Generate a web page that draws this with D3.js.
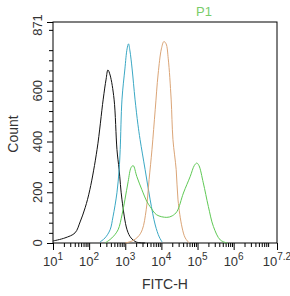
<!DOCTYPE html>
<html>
<head>
<meta charset="utf-8">
<script src="https://cdn.jsdelivr.net/npm/d3@7"></script>
<style>
  body { margin: 0; background: #fff; }
  text { font-family: "Liberation Sans", Arial, sans-serif; fill: #333; }
</style>
</head>
<body>
<div id="chart"></div>
<script>
// log10(FITC-H) positions and counts
var blackLog   = [1.0, 1.33, 1.61, 1.75, 1.89, 2.02, 2.22, 2.39, 2.47, 2.52, 2.58, 2.69, 2.77, 2.83, 2.91, 3.05, 3.16, 3.30, 3.55];
var blackCount = [8, 20, 40, 83, 139, 210, 369, 567, 646, 682, 662, 567, 369, 289, 170, 52, 20, 4, 0];

var cyanLog   = [2.30, 2.44, 2.58, 2.66, 2.77, 2.83, 2.86, 2.91, 2.99, 3.05, 3.09, 3.13, 3.19, 3.27, 3.35, 3.41, 3.55, 3.69, 3.83, 3.94, 4.02];
var cyanCount = [4, 20, 52, 103, 198, 289, 369, 567, 686, 765, 785, 757, 686, 567, 468, 408, 289, 170, 71, 24, 4];

var orangeLog   = [3.0, 3.19, 3.35, 3.47, 3.58, 3.66, 3.74, 3.83, 3.91, 4.00, 4.07, 4.13, 4.19, 4.27, 4.32, 4.41, 4.46, 4.57, 4.66, 4.77];
var orangeCount = [0, 8, 24, 52, 131, 250, 369, 527, 666, 765, 794, 785, 726, 567, 408, 289, 170, 63, 20, 0];

var greenLog   = [2.44, 2.63, 2.80, 2.91, 2.99, 3.08, 3.16, 3.22, 3.32, 3.46, 3.60, 3.69, 3.87, 4.15, 4.30, 4.43, 4.61, 4.80, 4.91, 4.98, 5.04, 5.16, 5.30, 5.44, 5.63, 5.82];
var greenCount = [0, 20, 52, 111, 170, 242, 297, 305, 262, 210, 163, 143, 111, 101, 107, 124, 197, 263, 305, 315, 305, 237, 144, 65, 12, 0];

var xExponents = [1, 2, 3, 4, 5, 6, 7.2];
var yMajor = [0, 200, 400, 600, 871];

var width = 290, height = 296;
var plotLeft = 53, plotRight = 277, plotTop = 22, plotBottom = 243;

var svg = d3.select("#chart").append("svg")
    .attr("width", width)
    .attr("height", height);

var x = d3.scaleLog().domain([10, Math.pow(10, 7.2)]).range([plotLeft, plotRight]);
var y = d3.scaleLinear().domain([0, 871]).range([plotBottom, plotTop]);

// minor ticks
var xMinor = [];
for (var d = 1; d < 7; d++) {
    for (var k = 2; k <= 9; k++) {
        var v = k * Math.pow(10, d);
        if (v < Math.pow(10, 7.2)) xMinor.push(v);
    }
}
var yMinor = [];
for (var c = 40; c < 871; c += 40) {
    if (c % 200 != 0) yMinor.push(c);
}

svg.append("g")
    .attr("transform", "translate(0," + plotBottom + ")")
    .call(d3.axisBottom(x).tickValues(xMinor).tickSize(4).tickFormat(""));
svg.append("g")
    .attr("transform", "translate(0," + plotBottom + ")")
    .call(d3.axisBottom(x).tickValues(xExponents.map(function(e) { return Math.pow(10, e); })).tickSize(7).tickFormat(""));

svg.append("g")
    .attr("transform", "translate(" + plotLeft + ",0)")
    .call(d3.axisLeft(y).tickValues(yMinor).tickSize(4).tickFormat(""));
svg.append("g")
    .attr("transform", "translate(" + plotLeft + ",0)")
    .call(d3.axisLeft(y).tickValues(yMajor).tickSize(6).tickFormat(""));

svg.selectAll(".domain").remove();
svg.selectAll(".tick line").attr("stroke", "#000");

// x tick labels: 10 with superscript exponent
var xLabels = svg.selectAll(".xlab")
    .data(xExponents)
  .enter().append("text")
    .attr("class", "xlab")
    .attr("x", function(e) { return x(Math.pow(10, e)); })
    .attr("y", 266)
    .attr("text-anchor", "middle")
    .style("font-size", "13px");
xLabels.append("tspan").text("10");
xLabels.append("tspan")
    .attr("dy", -6)
    .style("font-size", "10px")
    .text(function(e) { return e; });

// y tick labels, rotated
svg.selectAll(".ylab")
    .data(yMajor)
  .enter().append("text")
    .attr("class", "ylab")
    .attr("transform", function(c) {
        var py = c == 871 ? y(c) + 3 : y(c);
        return "translate(42," + py + ") rotate(-90)";
    })
    .attr("text-anchor", "middle")
    .style("font-size", "13px")
    .text(function(c) { return c; });

// frame
svg.append("rect")
    .attr("x", plotLeft)
    .attr("y", plotTop)
    .attr("width", plotRight - plotLeft)
    .attr("height", plotBottom - plotTop)
    .attr("fill", "none")
    .attr("stroke", "#000")
    .attr("stroke-width", 1);

var line = d3.line()
    .x(function(p) { return x(Math.pow(10, p[0])); })
    .y(function(p) { return y(p[1]); })
    .curve(d3.curveCatmullRom);

var series = [
    { xs: blackLog, ys: blackCount, color: "#111" },
    { xs: cyanLog, ys: cyanCount, color: "#3aa8c4" },
    { xs: orangeLog, ys: orangeCount, color: "#dba577" },
    { xs: greenLog, ys: greenCount, color: "#5fc955" }
];

svg.selectAll(".curve")
    .data(series)
  .enter().append("path")
    .attr("class", "curve")
    .attr("d", function(s) { return line(d3.zip(s.xs, s.ys)); })
    .attr("fill", "none")
    .attr("stroke", function(s) { return s.color; })
    .attr("stroke-width", 1);

// axis titles
svg.append("text")
    .attr("x", 165)
    .attr("y", 289)
    .attr("text-anchor", "middle")
    .style("font-size", "14px")
    .text("FITC-H");

svg.append("text")
    .attr("transform", "translate(18,134) rotate(-90)")
    .attr("text-anchor", "middle")
    .style("font-size", "14px")
    .text("Count");

svg.append("text")
    .attr("x", 196)
    .attr("y", 16)
    .style("font-size", "13px")
    .style("fill", "#7acc6a")
    .text("P1");
</script>
</body>
</html>
